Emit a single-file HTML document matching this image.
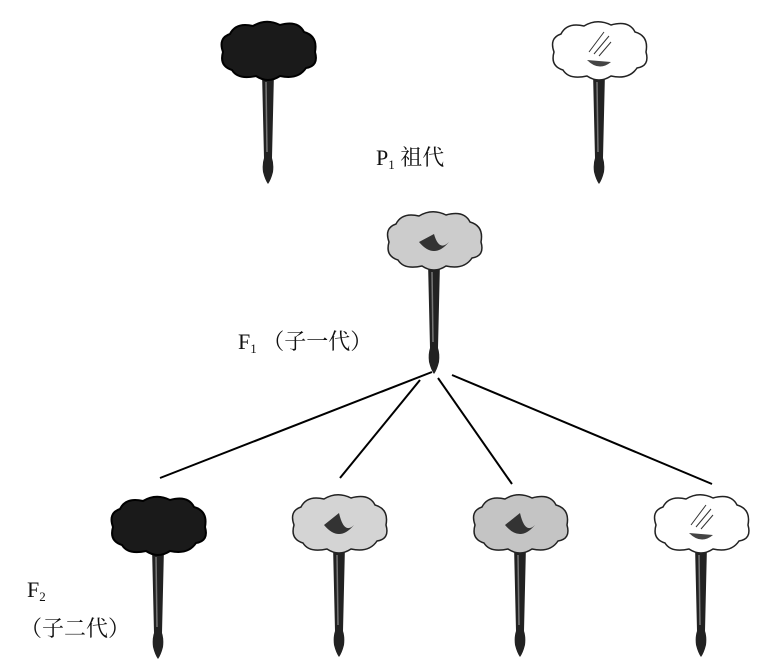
<!DOCTYPE html>
<html><head><meta charset="utf-8"><style>
body{margin:0;background:#fff;width:773px;height:668px;overflow:hidden}
svg{display:block}
text{font-family:"Liberation Serif","Noto Serif CJK SC",serif;fill:#111}
</style></head><body>
<svg width="773" height="668" viewBox="0 0 773 668">
<defs>
<g id="stem">
<path d="M44,50 L46,136 Q44,142 45,150 Q47,158 50,162 Q53,158 55,150 Q56,142 54,136 L56,50 Z" fill="#222"/>
<path d="M48,60 L49,130" stroke="#777" stroke-width="1.5"/>
</g>
<path id="head" d="M5,30 Q0,16 12,12 Q18,0 35,4 Q48,-4 62,3 Q80,-2 86,10 Q100,14 97,30 Q101,44 88,46 Q80,58 62,54 Q50,62 38,54 Q20,58 14,48 Q1,44 5,30 Z"/>
</defs>
<g stroke="#000" stroke-width="2">
<line x1="432" y1="372" x2="160" y2="478"/>
<line x1="420" y1="380" x2="340" y2="478"/>
<line x1="438" y1="378" x2="512" y2="484"/>
<line x1="452" y1="375" x2="712" y2="484"/>
</g>
<g transform="translate(218,22)"><use href="#stem"/><use href="#head" fill="#1a1a1a" stroke="#000" stroke-width="2"/></g>
<g transform="translate(549,22)"><use href="#stem"/><use href="#head" fill="#fff" stroke="#222" stroke-width="1.5"/><path d="M40,30 L55,10 M45,32 L60,14 M50,34 L62,20" stroke="#333"/><path d="M38,38 Q50,50 62,40" fill="#444"/></g>
<g transform="translate(384,212)"><use href="#stem"/><use href="#head" fill="#ccc" stroke="#222" stroke-width="1.5"/><path d="M35,30 Q50,48 65,30 Q55,40 50,22 Z" fill="#333"/></g>
<g transform="translate(108,497)"><use href="#stem"/><use href="#head" fill="#1a1a1a" stroke="#000" stroke-width="2"/></g>
<g transform="translate(289,495)"><use href="#stem"/><use href="#head" fill="#d4d4d4" stroke="#222" stroke-width="1.5"/><path d="M35,30 Q50,48 65,30 Q55,40 50,18 Z" fill="#333"/></g>
<g transform="translate(470,495)"><use href="#stem"/><use href="#head" fill="#c4c4c4" stroke="#222" stroke-width="1.5"/><path d="M35,30 Q50,48 65,30 Q55,40 50,18 Z" fill="#333"/></g>
<g transform="translate(651,495)"><use href="#stem"/><use href="#head" fill="#fff" stroke="#222" stroke-width="1.5"/><path d="M40,30 L55,10 M45,32 L60,14 M50,34 L62,20" stroke="#333"/><path d="M38,38 Q50,50 62,40" fill="#444"/></g>
<text x="376" y="165" font-size="22">P<tspan font-size="13" dy="4">1</tspan><tspan dy="-4"> 祖代</tspan></text>
<text x="238" y="349" font-size="22">F<tspan font-size="13" dy="4">1</tspan><tspan dy="-4"> （子一代）</tspan></text>
<text x="27" y="597" font-size="22">F<tspan font-size="13" dy="4">2</tspan></text>
<text x="20" y="636" font-size="22">（子二代）</text>
</svg>
</body></html>
